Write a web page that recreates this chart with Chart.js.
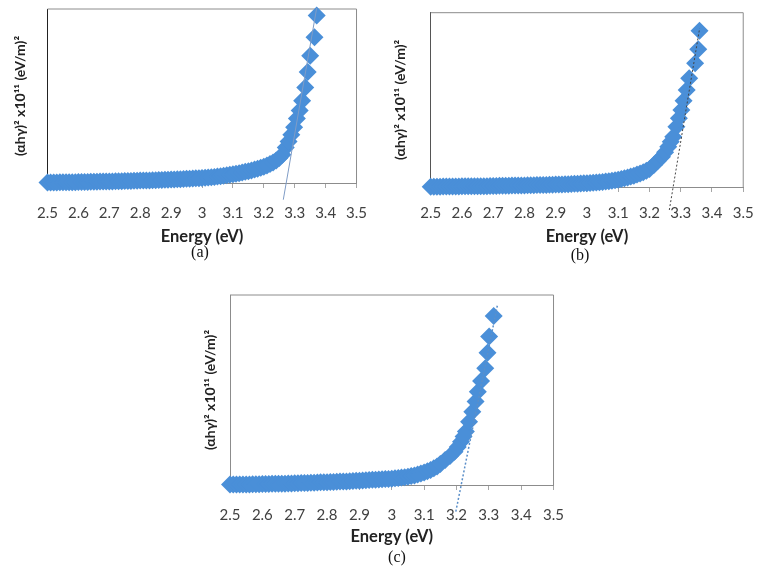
<!DOCTYPE html>
<html>
<head>
<meta charset="utf-8">
<script src="https://cdn.jsdelivr.net/npm/chart.js@4.4.1/dist/chart.umd.min.js"></script>
<style>
  html, body { margin: 0; padding: 0; background: #fff; }
  body { width: 766px; height: 567px; position: relative; overflow: hidden; }
  canvas { position: absolute; }
  .cap { position: absolute; font: 16px "Liberation Serif", serif; color: #111;
         transform: translate(-50%, -50%); white-space: nowrap; }
</style>
</head>
<body>
<canvas id="chartA" width="383" height="250" style="left:0px;top:0px"></canvas>
<canvas id="chartB" width="383" height="250" style="left:383px;top:0px"></canvas>
<canvas id="chartC" width="390" height="270" style="left:190px;top:285px"></canvas>
<div class="cap" style="left:200px;top:252px">(a)</div>
<div class="cap" style="left:580px;top:255px">(b)</div>
<div class="cap" style="left:397px;top:557px">(c)</div>
<script>
const xTitle = 'Energy (eV)';
const yTitle = '(αhγ)² x10¹¹ (eV/m)²';
const xTickValues = [2.5, 2.6, 2.7, 2.8, 2.9, 3, 3.1, 3.2, 3.3, 3.4, 3.5];
const xTickLabels = ['2.5', '2.6', '2.7', '2.8', '2.9', '3', '3.1', '3.2', '3.3', '3.4', '3.5'];

// (a)
const energyA = [
  2.50, 2.51, 2.52, 2.53, 2.54, 2.55, 2.56, 2.57, 2.58, 2.59,
  2.60, 2.61, 2.62, 2.63, 2.64, 2.65, 2.66, 2.67, 2.68, 2.69,
  2.70, 2.71, 2.72, 2.73, 2.74, 2.75, 2.76, 2.77, 2.78, 2.79,
  2.80, 2.81, 2.82, 2.83, 2.84, 2.85, 2.86, 2.87, 2.88, 2.89,
  2.90, 2.91, 2.92, 2.93, 2.94, 2.95, 2.96, 2.97, 2.98, 2.99,
  3.00, 3.01, 3.02, 3.03, 3.04, 3.05, 3.06, 3.07, 3.08, 3.09,
  3.10, 3.11, 3.12, 3.13, 3.14, 3.15, 3.16, 3.17, 3.18, 3.19,
  3.20, 3.21, 3.22, 3.23, 3.24, 3.25, 3.26,
  3.271, 3.280, 3.289, 3.298, 3.307, 3.316, 3.324, 3.334, 3.342, 3.350, 3.364, 3.371
];
const alphaA = [
  0.3, 0.3, 0.3, 0.3, 0.4, 0.4, 0.4, 0.4, 0.4, 0.5,
  0.6, 0.6, 0.6, 0.6, 0.7, 0.7, 0.7, 0.8, 0.8, 0.8,
  0.9, 0.9, 1.0, 1.0, 1.0, 1.1, 1.1, 1.2, 1.3, 1.3,
  1.4, 1.4, 1.5, 1.5, 1.6, 1.6, 1.7, 1.7, 1.8, 1.9,
  2.0, 2.0, 2.1, 2.2, 2.3, 2.4, 2.5, 2.6, 2.7, 2.8,
  2.9, 3.0, 3.2, 3.3, 3.5, 3.7, 3.9, 4.1, 4.4, 4.7,
  5.0, 5.3, 5.6, 6.0, 6.4, 6.8, 7.2, 7.7, 8.2, 8.8,
  9.4, 10.1, 10.9, 11.8, 12.9, 14.3, 16.2,
  20.4, 23.8, 27.8, 32.0, 37.0, 41.6, 47.2, 54.9, 63.8, 73.1, 83.8, 96.2
];
const tangentEnergyA = [3.263, 3.371];
const tangentAlphaA = [-9.6, 100.5];

// (b)
const energyB = [
  2.50, 2.51, 2.52, 2.53, 2.54, 2.55, 2.56, 2.57, 2.58, 2.59,
  2.60, 2.61, 2.62, 2.63, 2.64, 2.65, 2.66, 2.67, 2.68, 2.69,
  2.70, 2.71, 2.72, 2.73, 2.74, 2.75, 2.76, 2.77, 2.78, 2.79,
  2.80, 2.81, 2.82, 2.83, 2.84, 2.85, 2.86, 2.87, 2.88, 2.89,
  2.90, 2.91, 2.92, 2.93, 2.94, 2.95, 2.96, 2.97, 2.98, 2.99,
  3.00, 3.01, 3.02, 3.03, 3.04, 3.05, 3.06, 3.07, 3.08, 3.09,
  3.10, 3.11, 3.12, 3.13, 3.14, 3.15, 3.16, 3.17, 3.18, 3.19,
  3.20,
  3.214, 3.227, 3.240, 3.250, 3.260, 3.268, 3.276, 3.286, 3.294, 3.302,
  3.309, 3.319, 3.327, 3.346, 3.356, 3.360
];
const alphaB = [
  0.2, 0.2, 0.2, 0.2, 0.3, 0.3, 0.3, 0.3, 0.3, 0.3,
  0.4, 0.4, 0.4, 0.4, 0.4, 0.5, 0.5, 0.5, 0.5, 0.6,
  0.6, 0.6, 0.7, 0.7, 0.7, 0.7, 0.8, 0.8, 0.8, 0.9,
  0.9, 1.0, 1.0, 1.0, 1.1, 1.1, 1.2, 1.2, 1.3, 1.3,
  1.4, 1.4, 1.5, 1.6, 1.6, 1.7, 1.8, 1.9, 2.0, 2.1,
  2.2, 2.3, 2.4, 2.6, 2.7, 2.9, 3.1, 3.3, 3.6, 3.9,
  4.2, 4.6, 5.0, 5.5, 6.0, 6.5, 7.1, 7.7, 8.4, 9.3,
  10.3,
  12.6, 15.0, 17.4, 20.0, 23.1, 26.0, 28.9, 34.6, 39.4, 44.2,
  49.5, 55.6, 62.4, 71.0, 79.0, 89.7
];
const tangentEnergyB = [3.2635, 3.3604];
const tangentAlphaB = [-13.2, 91.0];

// (c)
const energyC = [
  2.50, 2.51, 2.52, 2.53, 2.54, 2.55, 2.56, 2.57, 2.58, 2.59,
  2.60, 2.61, 2.62, 2.63, 2.64, 2.65, 2.66, 2.67, 2.68, 2.69,
  2.70, 2.71, 2.72, 2.73, 2.74, 2.75, 2.76, 2.77, 2.78, 2.79,
  2.80, 2.81, 2.82, 2.83, 2.84, 2.85, 2.86, 2.87, 2.88, 2.89,
  2.90, 2.91, 2.92, 2.93, 2.94, 2.95, 2.96, 2.97, 2.98, 2.99,
  3.00, 3.01, 3.02, 3.03, 3.04, 3.05, 3.06, 3.07, 3.08, 3.09,
  3.10, 3.11, 3.12, 3.13, 3.14, 3.15,
  3.165, 3.180, 3.194, 3.204, 3.214, 3.222, 3.229, 3.239, 3.249, 3.259,
  3.266, 3.276, 3.289, 3.296, 3.301, 3.315
];
const alphaC = [
  0.2, 0.2, 0.2, 0.3, 0.3, 0.3, 0.3, 0.4, 0.4, 0.4,
  0.5, 0.5, 0.5, 0.6, 0.6, 0.6, 0.7, 0.7, 0.8, 0.8,
  0.9, 0.9, 1.0, 1.0, 1.1, 1.2, 1.2, 1.3, 1.4, 1.4,
  1.5, 1.6, 1.6, 1.7, 1.8, 1.9, 1.9, 2.0, 2.1, 2.2,
  2.3, 2.4, 2.5, 2.6, 2.7, 2.8, 2.9, 3.0, 3.1, 3.2,
  3.3, 3.5, 3.7, 3.9, 4.1, 4.4, 4.7, 5.0, 5.5, 6.0,
  6.6, 7.2, 7.9, 8.8, 9.8, 11.0,
  13.2, 15.3, 17.5, 20.0, 22.8, 25.5, 28.1, 33.3, 38.6, 43.9,
  49.1, 54.7, 61.4, 69.6, 78.1, 88.9
];
const tangentEnergyC = [3.198, 3.327];
const tangentAlphaC = [-14.0, 95.0];

const markerBlue = '#4a8fd8';

// box around the plot area (top and right; left/bottom are the axes)
const framePlugin = {
  id: 'frame',
  beforeDatasetsDraw(chart) {
    const {ctx, chartArea} = chart;
    ctx.save();
    ctx.strokeStyle = '#8c8c8c';
    ctx.lineWidth = 1;
    ctx.beginPath();
    ctx.moveTo(chartArea.left, chartArea.top);
    ctx.lineTo(chartArea.right, chartArea.top);
    ctx.lineTo(chartArea.right, chartArea.bottom);
    ctx.stroke();
    ctx.restore();
  }
};

function toPoints(xs, ys) {
  return xs.map((x, i) => ({x: x, y: ys[i]}));
}

function buildChart(id, energy, alpha, tanE, tanA, box) {
  return new Chart(document.getElementById(id), {
    type: 'scatter',
    data: {
      datasets: [
        {
          data: toPoints(tanE, tanA),
          showLine: true,
          borderColor: box.tanColor,
          borderWidth: box.tanWidth,
          borderDash: box.tanDash,
          pointRadius: 0,
          clip: false,
          order: 0
        },
        {
          data: toPoints(energy, alpha),
          pointStyle: 'rectRot',
          pointRadius: 9,
          backgroundColor: markerBlue,
          borderColor: markerBlue,
          borderWidth: 0,
          clip: false,
          order: 1
        }
      ]
    },
    options: {
      responsive: false,
      animation: false,
      layout: { padding: { left: 0, top: box.top, right: box.right, bottom: 0 } },
      plugins: { legend: { display: false }, tooltip: { enabled: false } },
      scales: {
        x: {
          type: 'linear',
          min: 2.5,
          max: 3.5,
          afterBuildTicks: s => { s.ticks = xTickValues.map(v => ({value: v})); },
          afterFit: s => { s.height = box.xHeight; },
          grid: { drawOnChartArea: false, drawTicks: true, tickLength: 5, color: '#a6a6a6' },
          border: { color: '#8c8c8c' },
          ticks: {
            autoSkip: false,
            maxRotation: 0,
            padding: box.tickPad,
            color: '#404040',
            font: { family: 'Lato', size: 15 },
            callback: (v, i) => xTickLabels[i]
          },
          title: {
            display: true,
            text: xTitle,
            color: '#222',
            font: { family: 'Lato', size: 16.5, weight: 'bold' },
            padding: { top: 0, bottom: box.xTitlePad }
          }
        },
        y: {
          min: 0,
          max: 100,
          afterFit: s => { s.width = box.yWidth; },
          grid: { display: false },
          ticks: { display: false },
          border: { color: box.yBorder },
          title: {
            display: true,
            text: yTitle,
            color: '#222',
            font: { family: 'Lato', size: 14, weight: 'bold' },
            padding: { top: box.yTitlePad, bottom: 0 }
          }
        }
      }
    },
    plugins: [framePlugin]
  });
}

buildChart('chartA', energyA, alphaA, tangentEnergyA, tangentAlphaA, {
  top: 6, right: 11, yWidth: 47.5, xHeight: 67, tickPad: 16, xTitlePad: 3.1, yTitlePad: 11.6,
  yBorder: '#222', tanColor: '#7f9cc6', tanWidth: 1, tanDash: []
});
buildChart('chartB', energyB, alphaB, tangentEnergyB, tangentAlphaB, {
  top: 12.7, right: 9.7, yWidth: 47.7, xHeight: 63, tickPad: 12.3, xTitlePad: 3.4, yTitlePad: 8.6,
  yBorder: '#555', tanColor: '#444', tanWidth: 1, tanDash: [2, 2]
});
buildChart('chartC', energyC, alphaC, tangentEnergyC, tangentAlphaC, {
  top: 10, right: 14, yWidth: 40, xHeight: 70, tickPad: 16, xTitlePad: 8.4, yTitlePad: 11.6,
  yBorder: '#8c8c8c', tanColor: '#5b8fc9', tanWidth: 1.5, tanDash: [2, 2]
});
</script>
</body>
</html>
